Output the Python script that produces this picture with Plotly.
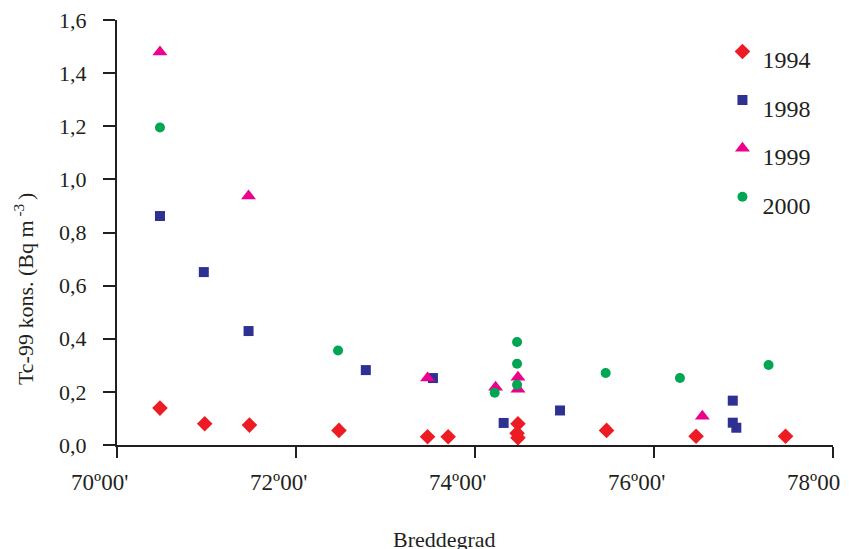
import plotly.graph_objects as go

# ---- data (latitude in decimal degrees N, Tc-99 in Bq m-3) ----
lat_1994 = [70.48, 70.98, 71.48, 72.48, 73.47, 73.70, 74.48, 74.47, 74.48, 75.47, 76.47, 77.47]
val_1994 = [0.139, 0.080, 0.075, 0.055, 0.031, 0.031, 0.080, 0.044, 0.027, 0.055, 0.033, 0.033]

lat_1998 = [70.48, 70.97, 71.47, 72.78, 73.53, 74.32, 74.95, 76.88, 76.88, 76.92]
val_1998 = [0.862, 0.651, 0.429, 0.282, 0.252, 0.083, 0.130, 0.167, 0.084, 0.065]

lat_1999 = [70.48, 71.47, 73.47, 74.23, 74.48, 74.48, 76.54]
val_1999 = [1.480, 0.937, 0.252, 0.217, 0.255, 0.210, 0.108]

lat_2000 = [70.48, 72.47, 74.22, 74.47, 74.47, 74.47, 75.46, 76.29, 77.28]
val_2000 = [1.195, 0.356, 0.197, 0.388, 0.306, 0.227, 0.271, 0.252, 0.301]

x_tickvals = [70, 72, 74, 76, 78]
x_ticktext = ["70º00'", "72º00'", "74º00'", "76º00'", "78º00'"]
y_tickvals = [0.0, 0.2, 0.4, 0.6, 0.8, 1.0, 1.2, 1.4, 1.6]

series = [
    ("1994", lat_1994, val_1994, "diamond", 12, "#ED1C24"),
    ("1998", lat_1998, val_1998, "square", 10, "#2E3192"),
    ("1999", lat_1999, val_1999, "triangle-up", 13, "#EC008C"),
    ("2000", lat_2000, val_2000, "circle", 10, "#00A651"),
]

fig = go.Figure()
for name, xs, ys, sym, size, col in series:
    fig.add_trace(go.Scatter(
        x=xs, y=ys, mode="markers",
        name="<sub><span style='font-size:24px'>" + name + "</span></sub>",
        legendgroup=name,
        marker=dict(symbol=sym, size=size, color=col, line=dict(width=0)),
    ))

font_family = "Liberation Serif, Times New Roman, serif"
axis_col = "#231F20"
pad = "&nbsp;" * 6  # tick labels sit slightly left of their ticks in the original

# page body has an 8px margin, so the figure is 16px smaller and offset
fig.update_layout(
    width=841, height=541,
    margin=dict(l=109, r=16, t=12, b=104, autoexpand=False),
    paper_bgcolor="white", plot_bgcolor="white",
    separators=", ",
    font=dict(family=font_family, size=22, color="#231F20"),
    showlegend=True,
    legend=dict(
        x=0.8456, y=0.984, xanchor="left", yanchor="top",
        bgcolor="rgba(0,0,0,0)", borderwidth=0,
        font=dict(family=font_family, size=28, color="#231F20"),
        tracegroupgap=9, traceorder="grouped",
    ),
    xaxis=dict(
        range=[70, 78], tickvals=x_tickvals, ticktext=[t + pad for t in x_ticktext],
        showgrid=False, zeroline=False, showline=True, linecolor=axis_col, linewidth=2,
        ticks="outside", ticklen=11, tickwidth=2, tickcolor=axis_col,
        ticklabelstandoff=4, ticklabeloverflow="allow",
        tickfont=dict(family=font_family, size=23, color="#231F20"),
    ),
    yaxis=dict(
        range=[0, 1.6], tickvals=y_tickvals, tickformat=".1f",
        showgrid=False, zeroline=False, showline=True, linecolor=axis_col, linewidth=2,
        ticks="outside", ticklen=12, tickwidth=2, tickcolor=axis_col,
        ticklabelstandoff=12, ticklabeloverflow="allow",
        tickfont=dict(family=font_family, size=22, color="#231F20"),
    ),
    annotations=[
        dict(text="Breddegrad", xref="paper", yref="paper", x=0.458, y=-0.2235,
             xanchor="center", yanchor="middle", showarrow=False,
             font=dict(family=font_family, size=22, color="#231F20")),
        dict(text="Tc-99 kons. (Bq m<sup> -3 </sup>)", xref="paper", yref="paper",
             x=-0.130, y=0.369, xanchor="center", yanchor="middle", textangle=-90,
             showarrow=False,
             font=dict(family=font_family, size=22, color="#231F20")),
    ],
)

fig.write_html("out.html")
